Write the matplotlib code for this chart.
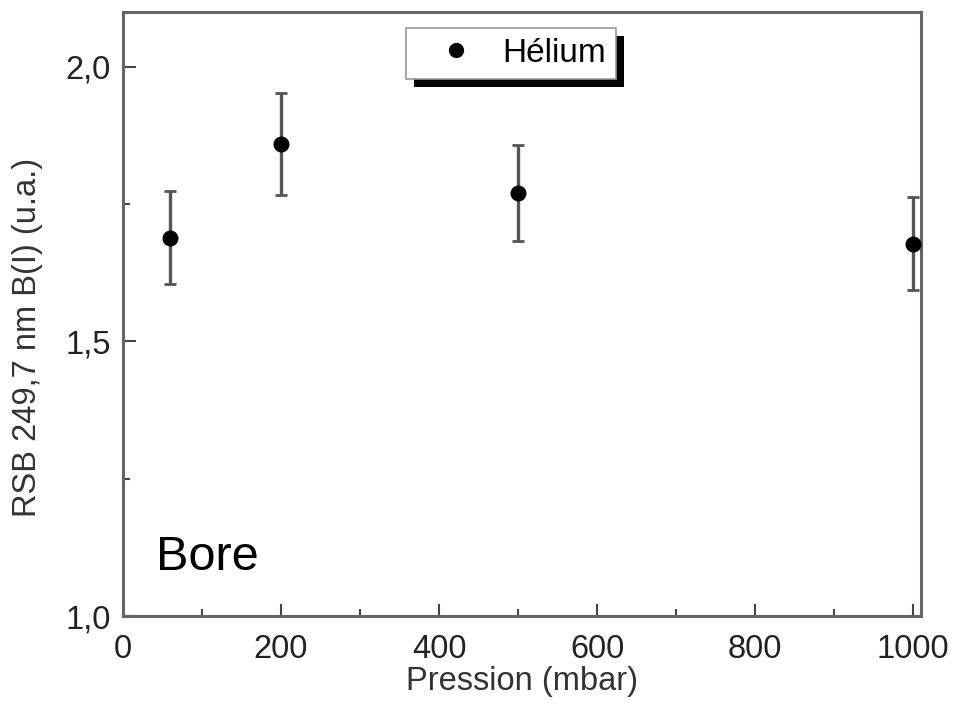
import numpy as np
import matplotlib.pyplot as plt
from matplotlib.ticker import MultipleLocator, FuncFormatter
from matplotlib.patches import Rectangle

plt.rcParams['font.family'] = ['Liberation Sans', 'DejaVu Sans']

# data
pression = [60, 200, 500, 1000]
rsb = [1.689, 1.860, 1.770, 1.678]
err = [0.085, 0.093, 0.087, 0.085]

fig = plt.figure(figsize=(9.55, 7.07), dpi=100)
ax = fig.add_axes([0.1288, 0.1287, 0.8356, 0.8543])

ax.errorbar(pression, rsb, yerr=err, fmt='none', ecolor='#555555',
            elinewidth=2.4, capsize=4.5, capthick=2, zorder=2)
ax.plot(pression, rsb, 'o', color='black', markersize=10.5, label='Hélium', zorder=3)

ax.set_xlim(0, 1010)
ax.set_ylim(1.0, 2.1)
ax.xaxis.set_major_locator(MultipleLocator(200))
ax.xaxis.set_minor_locator(MultipleLocator(100))
ax.yaxis.set_major_locator(MultipleLocator(0.5))
ax.yaxis.set_minor_locator(MultipleLocator(0.25))
ax.yaxis.set_major_formatter(FuncFormatter(lambda v, p: ('%.1f' % v).replace('.', ',')))

ax.tick_params(which='both', direction='in', labelsize=23.5, colors='#444444',
               labelcolor='#222222', width=1.5)
ax.tick_params(which='major', length=9)
ax.tick_params(which='minor', length=5)
ax.tick_params(axis='x', which='major', pad=13)
ax.tick_params(axis='y', which='major', pad=9)
for s in ax.spines.values():
    s.set_linewidth(2.2)
    s.set_color('#666666')

ax.set_xlabel('Pression (mbar)', fontsize=23.5, color='#333333', labelpad=1)
ax.set_ylabel('RSB 249,7 nm B(I) (u.a.)', fontsize=23.5, color='#333333')
ax.yaxis.set_label_coords(-0.100, 0.462)

ax.text(0.041, 0.077, 'Bore', transform=ax.transAxes, fontsize=35, color='black')

leg = ax.legend(loc='center', bbox_to_anchor=(0.486, 0.932), fontsize=24,
                frameon=True, fancybox=False, framealpha=1,
                handlelength=2.4, handletextpad=0.2, borderpad=0.3,
                markerscale=0.95)
leg.get_frame().set_edgecolor('#999999')
leg.get_frame().set_linewidth(1.2)

# offset black shadow behind the legend box
fig.canvas.draw()
bb = leg.get_window_extent().transformed(fig.transFigure.inverted())
dx, dy = 8 / 955, 8 / 707
shadow = Rectangle((bb.x0 + dx, bb.y0 - dy), bb.width, bb.height,
                   transform=fig.transFigure, facecolor='black',
                   edgecolor='none', zorder=4)
ax.add_artist(shadow)
shadow.set_clip_on(False)

fig.savefig('out.png', dpi=100)
